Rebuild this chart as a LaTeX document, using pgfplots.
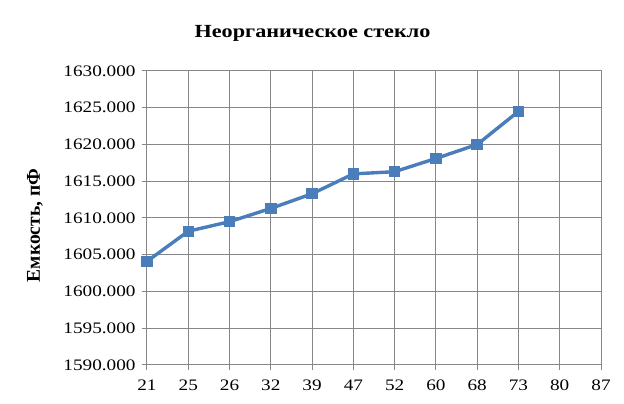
\documentclass[border=0pt]{standalone}
\usepackage{fontspec}
\setmainfont{Liberation Serif}
\newfontfamily\widefont{Liberation Serif}[FakeStretch=1.2]
\usepackage{pgfplots}
\pgfplotsset{compat=1.18}
\definecolor{serblue}{HTML}{4A7EBB}
\definecolor{gridgray}{HTML}{878787}

\begin{document}
\begin{tikzpicture}
\begin{axis}[
    scale only axis,
    width=454pt, height=294pt,
    xmin=0, xmax=11,
    ymin=1590, ymax=1630,
    xtick={0,...,11},
    xticklabels={21,25,26,32,39,47,52,60,68,73,80,87},
    ytick={1590,1595,...,1630},
    /pgf/number format/assume math mode=true,
    /pgf/number format/fixed,
    /pgf/number format/fixed zerofill,
    /pgf/number format/precision=3,
    /pgf/number format/1000 sep={},
    ticklabel style={font=\widefont\fontsize{16}{16}\selectfont},
    xticklabel style={yshift=-6pt},
    yticklabel style={xshift=-3pt},
    grid=major,
    major grid style={gridgray, line width=1pt},
    axis line style={gridgray, line width=1pt},
    tick style={gridgray, line width=1pt},
    tick align=outside,
    tick pos=left,
    major tick length=5pt,
]
\addplot[serblue, line width=3.4pt, mark=square*, mark size=4pt,
         mark options={solid}]
    coordinates {
    (0,1604.1)(1,1608.2)(2,1609.5)(3,1611.3)(4,1613.3)
    (5,1616.0)(6,1616.3)(7,1618.1)(8,1620.0)(9,1624.5)
    };
\end{axis}
\node[font=\widefont\bfseries\fontsize{18.5}{18.5}\selectfont] at (165.5pt,332pt) {Неорганическое стекло};
\node[font=\bfseries\fontsize{19.5}{19.5}\selectfont, rotate=90] at (-112pt,139.5pt) {Емкость, пФ};
\pgfresetboundingbox
\path[use as bounding box] (-147pt,-39pt) rectangle (477pt,365pt);
\end{tikzpicture}
\end{document}
